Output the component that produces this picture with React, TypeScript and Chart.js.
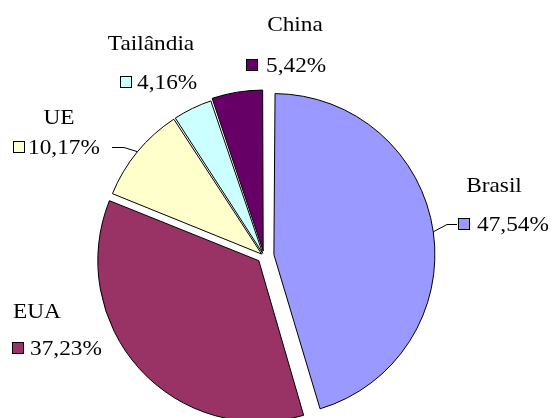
import React, { useEffect, useRef } from 'react';
import { Chart, registerables } from 'chart.js';

Chart.register(...registerables);

// ---- data ----
const categories = ['Brasil', 'EUA', 'UE', 'Tailândia', 'China'];
const shares = [47.54, 37.23, 10.17, 4.16, 5.42];

// ---- styles / layout (not data) ----
const sliceColors = ['#9999FF', '#993366', '#FFFFCC', '#CCFFFF', '#660066'];
const explodePx = [10, 7, 3, 3, 5];
const PIE_RADIUS = 161;
const FONT = '22px "Liberation Serif", serif';
const TEXT_SCALE_X = 1.06;

type LabelLayout = {
  nameX: number; nameY: number; nameAlign: CanvasTextAlign;
  keyX: number; valX: number; valY: number;
  leader?: number[][];
};

const labelLayout: LabelLayout[] = [
  { nameX: 494, nameY: 192, nameAlign: 'center', keyX: 458, valX: 477, valY: 231, leader: [[457, 224], [447, 224]] },
  { nameX: 13, nameY: 318, nameAlign: 'left', keyX: 12, valX: 30, valY: 355 },
  { nameX: 59, nameY: 124, nameAlign: 'center', keyX: 13, valX: 28, valY: 154, leader: [[112, 147], [124, 147]] },
  { nameX: 151, nameY: 50, nameAlign: 'center', keyX: 120, valX: 137, valY: 89 },
  { nameX: 295, nameY: 31, nameAlign: 'center', keyX: 246, valX: 266, valY: 72 },
];

const fmt = (v: number) => v.toFixed(2).replace('.', ',') + '%';

function drawText(ctx: CanvasRenderingContext2D, text: string, x: number, y: number, align: CanvasTextAlign) {
  ctx.save();
  ctx.translate(x, y);
  ctx.scale(TEXT_SCALE_X, 1);
  ctx.textAlign = align;
  ctx.fillText(text, 0, 0);
  ctx.restore();
}

const fixRadiusPlugin = {
  id: 'fixRadius',
  beforeDatasetsDraw(chart: any) {
    const meta = chart.getDatasetMeta(0);
    meta.data.forEach((arc: any, i: number) => {
      const circ = arc.endAngle - arc.startAngle;
      const fix = 1 - Math.sin(Math.min(Math.PI, circ));
      arc.outerRadius = PIE_RADIUS - explodePx[i] * fix;
    });
  },
};

const labelsPlugin = {
  id: 'sliceLabels',
  afterDatasetsDraw(chart: any) {
    const ctx: CanvasRenderingContext2D = chart.ctx;
    const meta = chart.getDatasetMeta(0);
    ctx.save();
    ctx.font = FONT;
    ctx.textBaseline = 'alphabetic';
    meta.data.forEach((arc: any, i: number) => {
      const L = labelLayout[i];
      if (!L) return;
      ctx.fillStyle = '#000';
      drawText(ctx, categories[i], L.nameX, L.nameY, L.nameAlign);
      drawText(ctx, fmt(shares[i]), L.valX, L.valY, 'left');
      // legend key
      const size = 11;
      const kx = L.keyX + 0.5;
      const ky = L.valY - 2 - size + 0.5;
      ctx.fillStyle = sliceColors[i];
      ctx.fillRect(kx, ky, size, size);
      ctx.strokeStyle = '#000';
      ctx.lineWidth = 1;
      ctx.strokeRect(kx, ky, size, size);
      // leader line
      if (L.leader) {
        const mid = (arc.startAngle + arc.endAngle) / 2;
        const off = explodePx[i];
        const r = PIE_RADIUS;
        const ex = arc.x + Math.cos(mid) * (off + r);
        const ey = arc.y + Math.sin(mid) * (off + r);
        ctx.beginPath();
        ctx.moveTo(L.leader[0][0], L.leader[0][1] + 0.5);
        ctx.lineTo(L.leader[1][0], L.leader[1][1] + 0.5);
        ctx.lineTo(ex, ey);
        ctx.strokeStyle = '#000';
        ctx.lineWidth = 1;
        ctx.stroke();
      }
    });
    ctx.restore();
  },
};

export default function App() {
  const canvasRef = useRef<HTMLCanvasElement | null>(null);

  useEffect(() => {
    const canvas = canvasRef.current;
    if (!canvas) return;
    const chart = new Chart(canvas, {
      type: 'pie',
      data: {
        labels: categories,
        datasets: [
          {
            data: shares,
            backgroundColor: sliceColors,
            borderColor: '#000000',
            borderWidth: 1,
            offset: explodePx.map((o) => o * 4),
            hoverOffset: 0,
            clip: false as any,
          } as any,
        ],
      },
      options: {
        responsive: false,
        animation: false,
        radius: PIE_RADIUS,
        layout: { padding: { left: 0, right: 25, top: 94, bottom: 0 } },
        plugins: {
          legend: { display: false },
          tooltip: { enabled: false },
        },
        events: [],
      } as any,
      plugins: [fixRadiusPlugin, labelsPlugin],
    });
    return () => chart.destroy();
  }, []);

  return (
    <div style={{ position: 'fixed', left: 0, top: 0, width: 553, height: 418, background: '#fff' }}>
      <canvas ref={canvasRef} width={553} height={418} style={{ display: 'block' }} />
    </div>
  );
}
